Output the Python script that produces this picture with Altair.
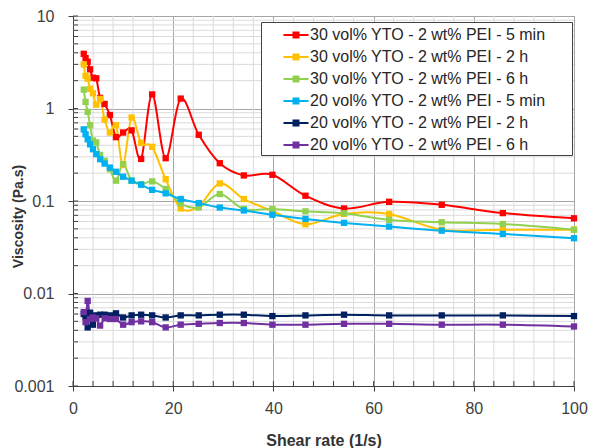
import altair as alt
import pandas as pd

# Shear rates (1/s) of the measurement points
shear = [2.15, 2.51, 2.93, 3.41, 3.98, 4.64, 5.41, 6.31, 7.36, 8.58, 10.0, 11.7, 13.6,
         15.8, 18.5, 21.5, 25.1, 29.3, 34.1, 39.8, 46.4, 54.1, 63.1, 73.6, 85.8, 100.0]

series_names = [
    "30 vol% YTO - 2 wt% PEI - 5 min",
    "30 vol% YTO - 2 wt% PEI - 2 h",
    "30 vol% YTO - 2 wt% PEI - 6 h",
    "20 vol% YTO - 2 wt% PEI - 5 min",
    "20 vol% YTO - 2 wt% PEI - 2 h",
    "20 vol% YTO - 2 wt% PEI - 6 h",
]
colors = ["#ff0000", "#ffc000", "#92d050", "#00b0f0", "#002060", "#7030a0"]

# Viscosity (Pa.s)
red = [3.9, 3.5, 3.2, 2.65, 2.15, 2.12, 1.3, 1.12, 0.85, 0.49, 0.55, 0.58, 0.285,
       1.42, 0.29, 1.28, 0.52, 0.256, 0.189, 0.192, 0.114, 0.083, 0.098, 0.091, 0.074, 0.065]
orange = [3.0, 2.25, 2.1, 1.63, 1.46, 1.10, 1.27, 0.76, 0.55, 0.66, 0.245, 0.80, 0.425,
          0.385, 0.172, 0.083, 0.0875, 0.155, 0.105, 0.078, 0.056, 0.0725, 0.0725, 0.049, 0.049, 0.049]
green = [1.60, 1.18, 0.92, 0.66, 0.45, 0.43, 0.315, 0.272, 0.221, 0.166, 0.25, 0.166, 0.152,
         0.163, 0.135, 0.094, 0.085, 0.119, 0.082, 0.082, 0.0773, 0.0736, 0.0624, 0.0589, 0.0564, 0.049]
blue = [0.595, 0.526, 0.465, 0.41, 0.363, 0.321, 0.283, 0.254, 0.230, 0.207, 0.183, 0.166, 0.150,
        0.132, 0.121, 0.105, 0.095, 0.085, 0.079, 0.071, 0.064, 0.058, 0.0529, 0.0478, 0.0441, 0.0396]
navy = [0.0060, 0.0056, 0.0043, 0.0062, 0.0046, 0.0058, 0.0059, 0.0059, 0.0058, 0.0061, 0.0055,
        0.0058, 0.0059, 0.0058, 0.0055, 0.0058, 0.0058, 0.0059, 0.0059, 0.0057, 0.0058, 0.0059,
        0.0058, 0.0058, 0.0058, 0.0057]
purple = [0.0063, 0.0049, 0.0083, 0.0053, 0.0055, 0.0054, 0.0045, 0.0054, 0.0053, 0.0053, 0.0046,
          0.0049, 0.0050, 0.0049, 0.0043, 0.0046, 0.0047, 0.0048, 0.0048, 0.0046, 0.0046, 0.0047,
          0.0047, 0.0046, 0.0046, 0.0044]

# Axis tick values
x_major = [0, 20, 40, 60, 80, 100]
x_minor = [4, 8, 12, 16, 24, 28, 32, 36, 44, 48, 52, 56, 64, 68, 72, 76, 84, 88, 92, 96]
y_major = [0.001, 0.01, 0.1, 1, 10]
y_minor = [0.002, 0.003, 0.004, 0.005, 0.006, 0.007, 0.008, 0.009,
           0.02, 0.03, 0.04, 0.05, 0.06, 0.07, 0.08, 0.09,
           0.2, 0.3, 0.4, 0.5, 0.6, 0.7, 0.8, 0.9,
           2, 3, 4, 5, 6, 7, 8, 9]

rows = []
for name, vals in zip(series_names, [red, orange, green, blue, navy, purple]):
    for i, (x, v) in enumerate(zip(shear, vals)):
        rows.append({"series": name, "shear": x, "visc": v, "idx": i})
df = pd.DataFrame(rows)

FONT = "Liberation Sans"
W, H = 501, 370

xscale = alt.Scale(domain=[0, 100], nice=False, zero=False)
yscale = alt.Scale(type="log", domain=[0.001, 10], nice=False)

x_axis = alt.Axis(values=x_major, title="Shear rate (1/s)", grid=True, gridColor="#a6a6a6",
                  tickSize=5, tickColor="#404040", domainColor="#404040",
                  labelPadding=9, labelFontSize=16, labelFont=FONT, labelColor="#404040",
                  labelFlush=False, labelOverlap=False,
                  titleFont=FONT, titleFontSize=16, titleFontWeight="bold", titleColor="#333333",
                  titleY=54, titleBaseline="middle")
y_axis = alt.Axis(values=y_major, format="~g", title="Viscosity (Pa.s)", grid=True,
                  gridColor="#a6a6a6", tickSize=5, tickColor="#404040", domainColor="#404040",
                  labelPadding=14, labelFontSize=16, labelFont=FONT, labelColor="#404040",
                  labelOverlap=False,
                  titleFont=FONT, titleFontSize=14, titleFontWeight="bold", titleColor="#333333",
                  titleX=-55, titleY=200, titleBaseline="middle")

sym = ("M-1.25,0L1.25,0"
       "M-0.25,-0.25L0.25,-0.25L0.25,0.25L-0.25,0.25Z"
       "M-0.1,-0.1L0.1,-0.1L0.1,0.1L-0.1,0.1Z")
pad = "\u2800\u2800"

color_legend = alt.Legend(title=None, orient="none", legendX=188, legendY=6,
                          symbolType=sym, symbolSize=400, symbolStrokeWidth=2,
                          labelFont=FONT, labelFontSize=16, labelColor="#262626",
                          labelOffset=3, symbolOffset=22, padding=2, rowPadding=3,
                          strokeColor="#404040", fillColor="white",
                          labelExpr=f"datum.label + '{pad}'", labelLimit=400)

color_scale = alt.Scale(domain=series_names, range=colors)

minor_xgrid = alt.Chart(pd.DataFrame({"v": x_minor})).mark_rule(
    color="#dadada", strokeWidth=1).encode(x=alt.X("v:Q", scale=xscale, axis=x_axis))
minor_ygrid = alt.Chart(pd.DataFrame({"v": y_minor})).mark_rule(
    color="#dadada", strokeWidth=1).encode(y=alt.Y("v:Q", scale=yscale, axis=y_axis))

lines = alt.Chart(df).mark_line(strokeWidth=2, interpolate="cardinal").encode(
    x=alt.X("shear:Q", scale=xscale, axis=x_axis),
    y=alt.Y("visc:Q", scale=yscale, axis=y_axis),
    color=alt.Color("series:N", scale=color_scale, sort=series_names, legend=color_legend),
    order="idx:Q",
)
squares = alt.Chart(df).mark_square(size=40, opacity=1).encode(
    x=alt.X("shear:Q", scale=xscale, axis=x_axis),
    y=alt.Y("visc:Q", scale=yscale, axis=y_axis),
    color=alt.Color("series:N", scale=color_scale, sort=series_names, legend=None),
)

xticks_in = alt.Chart(pd.DataFrame({"v": x_minor + x_major})).mark_rule(
    color="#404040").encode(x=alt.X("v:Q", scale=xscale, axis=x_axis),
                            y=alt.value(H), y2=alt.value(H - 5))
yticks_in = alt.Chart(pd.DataFrame({"v": y_minor + y_major})).mark_rule(
    color="#404040").encode(y=alt.Y("v:Q", scale=yscale, axis=y_axis),
                            x=alt.value(0), x2=alt.value(5))

chart = alt.layer(minor_xgrid, minor_ygrid, lines, squares, xticks_in, yticks_in).properties(
    width=W, height=H,
    autosize=alt.AutoSizeParams(type="none"),
    padding={"left": 65, "top": 8, "right": 14, "bottom": 62},
    background="white",
).configure_view(stroke="#595959", strokeWidth=1)

chart.save("out.html", embed_options={"renderer": "svg", "actions": False})
